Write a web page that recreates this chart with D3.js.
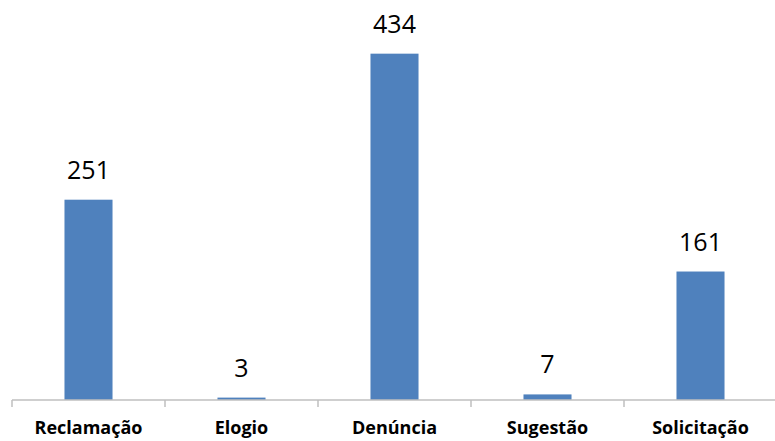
<!DOCTYPE html>
<html>
<head>
<meta charset="utf-8">
<script src="https://cdn.jsdelivr.net/npm/d3@7"></script>
<style>
  body { margin: 0; background: #fff; }
  svg { display: block; }
</style>
</head>
<body>
<div id="chart"></div>
<script>
// chart data
var categories = ["Reclamação", "Elogio", "Denúncia", "Sugestão", "Solicitação"];
var values = [251, 3, 434, 7, 161];

var width = 775, height = 441;
var margin = { top: 1, right: 0, bottom: 41, left: 12 };

var svg = d3.select("#chart").append("svg")
    .attr("width", width)
    .attr("height", height);

var x = d3.scaleBand()
    .domain(categories)
    .range([margin.left, width + 2])
    .paddingInner(0.686)
    .paddingOuter(0.343);

var y = d3.scaleLinear()
    .domain([0, 500])
    .range([height - margin.bottom, margin.top]);

// bars
svg.selectAll(".bar").data(values)
  .enter().append("rect")
    .attr("class", "bar")
    .attr("x", function(d, i) { return x(categories[i]); })
    .attr("y", function(d) { return y(d); })
    .attr("width", x.bandwidth())
    .attr("height", function(d) { return y(0) - y(d); })
    .attr("fill", "#4f81bd");

// value labels
svg.selectAll(".val").data(values)
  .enter().append("text")
    .attr("class", "val")
    .attr("x", function(d, i) { return x(categories[i]) + x.bandwidth() / 2; })
    .attr("y", function(d) { return y(d) - 21; })
    .attr("text-anchor", "middle")
    .style("font-family", "'Open Sans', sans-serif")
    .style("font-size", "25px")
    .style("fill", "#000")
    .text(function(d) { return d; });

// x axis line with category boundary ticks
var step = x.step();
var axisY = y(0);
var bounds = categories.map(function(c) { return x(c) - x.paddingOuter() * step; });

var axis = svg.append("g").attr("class", "x-axis");
axis.append("line")
    .attr("x1", margin.left).attr("x2", width)
    .attr("y1", axisY).attr("y2", axisY)
    .attr("stroke", "#bfbfbf").attr("stroke-width", 1.5);

axis.selectAll(".tick").data(bounds)
  .enter().append("line")
    .attr("class", "tick")
    .attr("x1", function(d) { return d; }).attr("x2", function(d) { return d; })
    .attr("y1", axisY).attr("y2", axisY + 7)
    .attr("stroke", "#bfbfbf").attr("stroke-width", 1.5);

axis.selectAll(".cat").data(categories)
  .enter().append("text")
    .attr("class", "cat")
    .attr("x", function(d) { return x(d) + x.bandwidth() / 2; })
    .attr("y", 434)
    .attr("text-anchor", "middle")
    .style("font-family", "'Open Sans', sans-serif")
    .style("font-weight", "bold")
    .style("font-size", "18px")
    .style("fill", "#000")
    .text(function(d) { return d; });
</script>
</body>
</html>
